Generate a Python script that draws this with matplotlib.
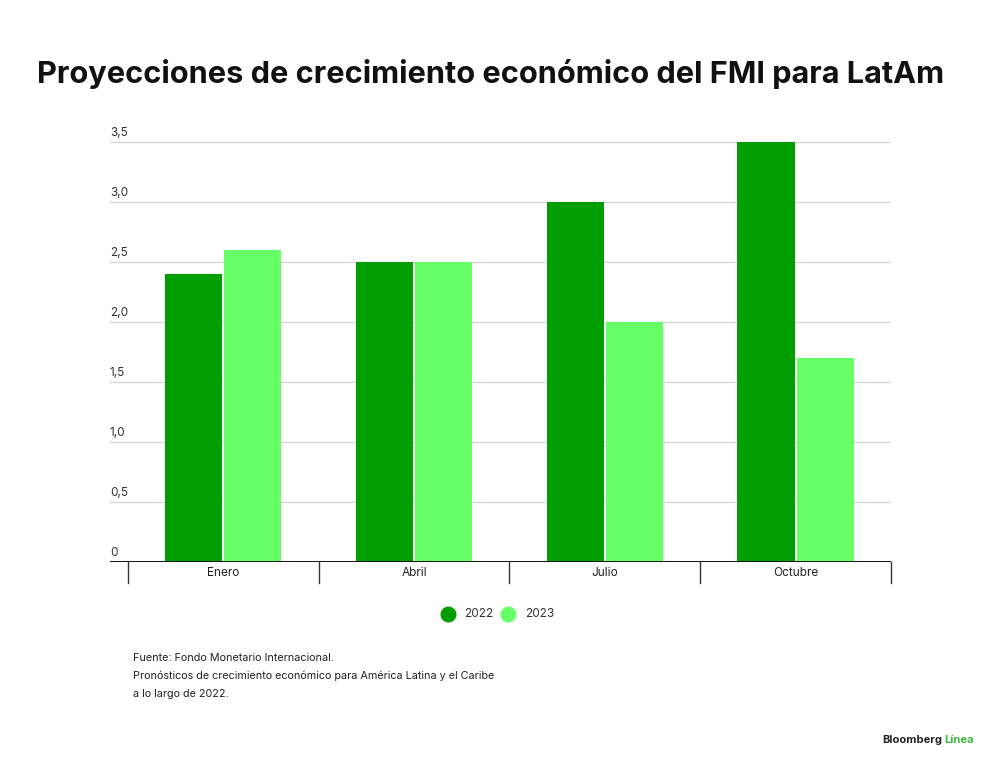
import matplotlib.pyplot as plt
from matplotlib.lines import Line2D
import numpy as np

plt.rcParams['font.family'] = ['Inter', 'DejaVu Sans']

categorias = ['Enero', 'Abril', 'Julio', 'Octubre']
proy_2022 = [2.4, 2.5, 3.0, 3.5]
proy_2023 = [2.6, 2.5, 2.0, 1.7]
series = ['2022', '2023']
yticks = [0, 0.5, 1.0, 1.5, 2.0, 2.5, 3.0, 3.5]

verde_osc = '#009e00'
verde_cla = '#66ff66'

fig = plt.figure(figsize=(10, 7.67), dpi=100)
ax = fig.add_axes([0.11, 0.2673, 0.781, 0.5476])

x = np.arange(len(categorias))
w = 0.3
ax.bar(x - w / 2 - 0.005, proy_2022, width=w, color=verde_osc, zorder=3)
ax.bar(x + w / 2 + 0.005, proy_2023, width=w, color=verde_cla, zorder=3)

ax.set_xlim(-0.594, 3.5)
ax.set_ylim(0, 3.5)
for s in ax.spines.values():
    s.set_visible(False)
ax.set_xticks([])
ax.set_yticks([])

# gridlines and labels
for v in yticks:
    if v == 0:
        ax.axhline(0, color='#111111', lw=1.4, zorder=4)
        lab = '0'
    else:
        ax.axhline(v, color='#d4d4d4', lw=0.9, zorder=1)
        lab = ('%.1f' % v).replace('.', ',')
    ax.text(-0.594, v + 0.025, lab, ha='left', va='bottom', fontsize=8.5,
            color='#333333')

# category separators and labels below the axis
trans = ax.get_xaxis_transform()
for b in np.arange(-0.5, len(categorias), 1.0):
    ax.plot([b, b], [0, -0.05], color='#333333', lw=1.0, transform=trans,
            clip_on=False)
for i, c in enumerate(categorias):
    ax.text(i, -0.027, c, transform=trans, ha='center', va='center',
            fontsize=8.5, color='#222222')

# title, sized to fit the same width as the reference
titulo = fig.text(0.037, 0.892,
                  'Proyecciones de crecimiento económico del FMI para LatAm',
                  fontsize=25, fontweight='bold', color='#111111', ha='left',
                  va='baseline')
r = fig.canvas.get_renderer()
ancho = titulo.get_window_extent(r).width
titulo.set_fontsize(25 * 905 / ancho)

# legend
ly = 1 - 614 / 767
fig.add_artist(Line2D([0.448], [ly], marker='o', ms=10.5, color=verde_osc,
                      lw=0, transform=fig.transFigure))
fig.text(0.464, ly, series[0], fontsize=8.5, va='center', color='#333333')
fig.add_artist(Line2D([0.508], [ly], marker='o', ms=10.5, color=verde_cla,
                      lw=0, transform=fig.transFigure))
fig.text(0.525, ly, series[1], fontsize=8.5, va='center', color='#333333')

# footnote
notas = ['Fuente: Fondo Monetario Internacional.',
         'Pronósticos de crecimiento económico para América Latina y el Caribe',
         'a lo largo de 2022.']
for k, t in enumerate(notas):
    fig.text(0.133, 1 - (658 + 18 * k) / 767, t, fontsize=7.8, va='center',
             color='#222222')

# logo
fig.text(0.882, 1 - 740 / 767, 'Bloomberg', fontsize=8, fontweight='bold',
         va='center', color='#222222')
fig.text(0.944, 1 - 740 / 767, 'Línea', fontsize=8, fontweight='bold',
         va='center', color='#3cb93c')

fig.savefig('out.png', dpi=100, facecolor='white')
